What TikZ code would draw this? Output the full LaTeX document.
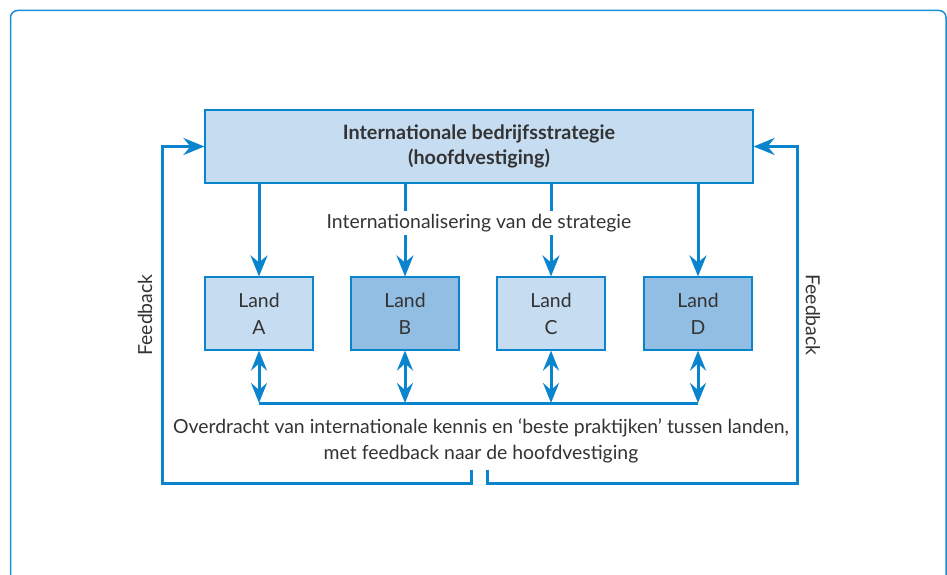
\documentclass[tikz,border=0pt]{standalone}
\usepackage{fontspec}
\setmainfont{Lato}
\usepackage{xcolor}
\usetikzlibrary{calc,arrows.meta}
\definecolor{frame}{HTML}{1A8FD4}
\definecolor{flow}{HTML}{0A84CC}
\definecolor{light}{HTML}{C6DCF1}
\definecolor{dark}{HTML}{93BEE3}
\definecolor{ink}{HTML}{333333}
\tikzset{
  conn/.style={draw=flow, line width=3pt},
  arr/.style={conn, -{Stealth[length=21pt,width=17pt,inset=7pt]}},
  darr/.style={conn, {Stealth[length=20pt,width=16pt,inset=7pt]}-{Stealth[length=20pt,width=16pt,inset=7pt]}},
  hqbox/.style={draw=flow, line width=1.2pt, fill=light, minimum width=548pt, minimum height=73pt,
    align=center, text=ink, font=\bfseries\fontsize{19.8}{25}\selectfont},
  landbox/.style={draw=flow, line width=1.2pt, minimum width=108pt, minimum height=73pt,
    align=center, text=ink, font=\fontsize{19.4}{27}\selectfont},
  lab/.style={text=ink, align=center, font=\fontsize{19.4}{26}\selectfont}
}
\begin{document}
\begin{tikzpicture}[x=1pt, y=-1pt]
  \useasboundingbox (0,0) rectangle (947,575);
  \clip (0,0) rectangle (947,575);
  \draw[frame, line width=1.5pt, rounded corners=7pt] (10.5,10.5) rectangle (946,620);
  \node[hqbox] (hq) at (479,146.5) {Internationale bedrijfsstrategie\\(hoofdvestiging)};
  \node[landbox, fill=light] (landA) at (259,313.5) {Land\\A};
  \node[landbox, fill=dark]  (landB) at (405,313.5) {Land\\B};
  \node[landbox, fill=light] (landC) at (551,313.5) {Land\\C};
  \node[landbox, fill=dark]  (landD) at (698,313.5) {Land\\D};
  \coordinate (bus) at (479,403);
  \coordinate (tickL) at (471,470);
  \coordinate (tickR) at (487,470);
  \coordinate (cornerL) at (162,483);
  \coordinate (cornerR) at (797,483);
  \foreach \l in {A,B,C,D}{
    \draw[arr] (hq.south -| land\l.north) -- (land\l.north);
    \draw[darr] (land\l.south) -- (land\l.south |- bus);
  }
  \node[lab, fill=white, inner sep=3pt] (strat) at (479,223) {Internationalisering van de strategie};
  \draw[conn] (landA.south |- bus) -- (landD.south |- bus);
  \node[lab] (transfer) at (481,441) {Overdracht van internationale kennis en ‘beste praktijken’ tussen landen,\\met feedback naar de hoofdvestiging};
  \draw[arr] (tickL) |- (cornerL) |- (hq.west);
  \draw[arr] (tickR) |- (cornerR) |- (hq.east);
  \node[lab, rotate=90] (fbL) at (145,315) {Feedback};
  \node[lab, rotate=-90] (fbR) at (813,315) {Feedback};
\end{tikzpicture}
\end{document}
